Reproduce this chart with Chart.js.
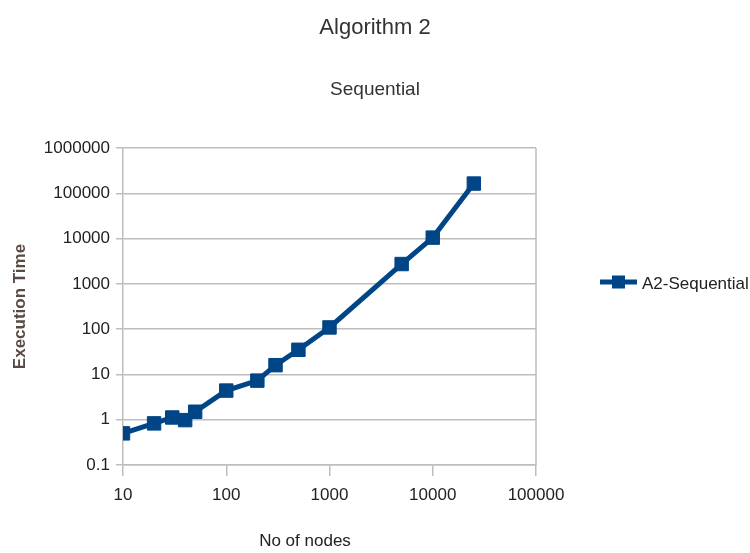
<!DOCTYPE html>
<html>
<head>
<meta charset="utf-8">
<title>Algorithm 2 - Sequential</title>
<script src="https://cdn.jsdelivr.net/npm/chart.js@4.4.1/dist/chart.umd.min.js"></script>
<style>
  html, body { margin: 0; padding: 0; background: #fff; }
  #wrap { width: 750px; height: 553px; }
</style>
</head>
<body>
<div id="wrap"><canvas id="chart" width="750" height="553"></canvas></div>
<script>
// Data
const nodes = [10, 20, 30, 40, 50, 100, 200, 300, 500, 1000, 5000, 10000, 25000];
const execTimes = [0.5, 0.83, 1.12, 0.98, 1.5, 4.4, 7.3, 16, 35, 109, 2740, 10500, 164000];
const xTicks = [10, 100, 1000, 10000, 100000];
const yTicks = [0.1, 1, 10, 100, 1000, 10000, 100000, 1000000];
const seriesLabel = 'A2-Sequential';
const chartTitle = 'Algorithm 2';
const chartSubtitle = 'Sequential';
const xTitle = 'No of nodes';
const yTitle = 'Execution Time';

const FONT = "'Liberation Sans', Arial, sans-serif";
const LINE_BLUE = '#004586';
const GRID = '#bdbdbd';

// Titles, right border of the plot, x axis title and legend drawn by hand
const extras = {
  id: 'extras',
  afterDraw(chart) {
    const ctx = chart.ctx;
    const area = chart.chartArea;
    ctx.save();
    ctx.strokeStyle = GRID;
    ctx.lineWidth = 1.5;
    ctx.beginPath();
    ctx.moveTo(area.right, area.top);
    ctx.lineTo(area.right, area.bottom);
    ctx.stroke();

    // titles, centred on the whole picture
    ctx.fillStyle = '#333';
    ctx.textAlign = 'center';
    ctx.textBaseline = 'alphabetic';
    ctx.font = '22px ' + FONT;
    ctx.fillText(chartTitle, 375, 34);
    ctx.font = '19px ' + FONT;
    ctx.fillText(chartSubtitle, 375, 95);

    // x axis title (sits a bit left of centre in the original)
    ctx.fillStyle = '#222';
    ctx.font = '17px ' + FONT;
    ctx.fillText(xTitle, 305, 546);

    // legend
    const ds = chart.data.datasets[0];
    const ly = 282;
    ctx.strokeStyle = ds.borderColor;
    ctx.lineWidth = ds.borderWidth;
    ctx.beginPath();
    ctx.moveTo(600, ly);
    ctx.lineTo(637, ly);
    ctx.stroke();
    ctx.fillStyle = ds.pointBackgroundColor;
    ctx.fillRect(612, ly - 6.5, 13, 13);
    ctx.fillStyle = '#222';
    ctx.font = '17px ' + FONT;
    ctx.textAlign = 'left';
    ctx.fillText(ds.label, 642, 289);
    ctx.restore();
  }
};

new Chart(document.getElementById('chart'), {
  type: 'line',
  data: {
    datasets: [{
      label: seriesLabel,
      data: nodes.map((n, i) => ({ x: n, y: execTimes[i] })),
      borderColor: LINE_BLUE,
      backgroundColor: LINE_BLUE,
      borderWidth: 5,
      pointStyle: 'rect',
      pointRadius: 9.5,
      pointBackgroundColor: LINE_BLUE,
      pointBorderColor: LINE_BLUE,
      pointBorderWidth: 1,
      tension: 0,
      fill: false
    }]
  },
  options: {
    responsive: false,
    animation: false,
    layout: { padding: { left: 10, right: 214, top: 148, bottom: 0 } },
    plugins: {
      legend: { display: false },
      tooltip: { enabled: false },
      title: { display: false },
      subtitle: { display: false }
    },
    scales: {
      x: {
        type: 'logarithmic',
        min: 10,
        max: 100000,
        afterBuildTicks: scale => { scale.ticks = xTicks.map(v => ({ value: v })); },
        afterFit: scale => { scale.height = 88; },
        ticks: {
          color: '#222',
          font: { family: FONT, size: 17 },
          padding: 9,
          maxRotation: 0,
          callback: v => String(v)
        },
        grid: { drawOnChartArea: false, color: GRID, lineWidth: 1.5, tickLength: 11 },
        border: { color: GRID, width: 1.5 }
      },
      y: {
        type: 'logarithmic',
        min: 0.1,
        max: 1000000,
        afterBuildTicks: scale => { scale.ticks = yTicks.map(v => ({ value: v })); },
        afterFit: scale => { scale.width = 113; },
        ticks: {
          color: '#222',
          font: { family: FONT, size: 17 },
          padding: 6,
          callback: v => String(v)
        },
        grid: { color: GRID, lineWidth: 1.5, tickLength: 7 },
        border: { color: GRID, width: 1.5 },
        title: {
          display: true,
          text: yTitle,
          color: '#5a4a44',
          font: { family: FONT, size: 17, weight: 'bold' },
          padding: { top: 0, bottom: 0 }
        }
      }
    }
  },
  plugins: [extras]
});
</script>
</body>
</html>
